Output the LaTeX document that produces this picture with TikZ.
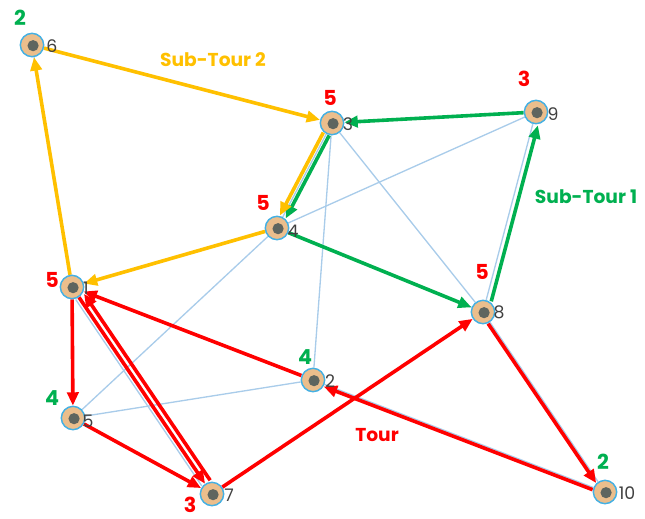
\documentclass[tikz,border=0pt]{standalone}
\usepackage{fontspec}
\setmainfont{Poppins}
\usetikzlibrary{arrows.meta}
\pgfdeclarelayer{bg}
\pgfsetlayers{bg,main}
\definecolor{nfill}{HTML}{EBBE8C}
\definecolor{nborder}{HTML}{45B0E3}
\definecolor{ndot}{HTML}{5E655F}
\definecolor{lblue}{HTML}{A9CCEA}
\definecolor{cred}{HTML}{FF0000}
\definecolor{cgreen}{HTML}{00B050}
\definecolor{cyellow}{HTML}{FFC000}
\definecolor{ntext}{HTML}{404040}
\tikzset{
  city/.style={circle, draw=nborder, line width=1.1pt, fill=nfill, minimum size=17.5pt, inner sep=0pt,
    path picture={\fill[ndot] ([xshift=0.8pt,yshift=-0.5pt]path picture bounding box.center) circle (4.2pt);}},
  num/.style={text=ntext, font=\fontsize{13}{13}\selectfont, inner sep=0pt},
  rlab/.style={text=cred, font=\bfseries\fontsize{15.5}{15.5}\selectfont, inner sep=0pt},
  glab/.style={text=cgreen, font=\bfseries\fontsize{15.5}{15.5}\selectfont, inner sep=0pt},
  lightedge/.style={draw=lblue, line width=1pt},
  tour/.style={draw=cred, line width=2.7pt, -{Triangle[length=10pt,width=8.5pt]}},
  subone/.style={draw=cgreen, line width=2.7pt, -{Triangle[length=10pt,width=8.5pt]}},
  subtwo/.style={draw=cyellow, line width=2.7pt, -{Triangle[length=10pt,width=8.5pt]}},
}
\begin{document}
\begin{tikzpicture}[x=0.75pt,y=-0.75pt]
\useasboundingbox (0,0) rectangle (645,518);
% cities
\node[city] (n6) at (32,45) {};
\node[city] (n3) at (332,123) {};
\node[city] (n9) at (536,112) {};
\node[city] (n4) at (277,228) {};
\node[city] (n1) at (72,287) {};
\node[city] (n8) at (483,312) {};
\node[city] (n2) at (313,380) {};
\node[city] (n5) at (73,418) {};
\node[city] (n7) at (212,494) {};
\node[city] (n10) at (605,492) {};
% city numbers
\node[num] (t6) at (52,46) {6};
\node[num] (t3) at (348,124) {3};
\node[num] (t9) at (553,114) {9};
\node[num] (t4) at (293,231) {4};
\node[num] (t1) at (86,288) {1};
\node[num] (t8) at (499,312) {8};
\node[num] (t2) at (330,381) {2};
\node[num] (t5) at (88,421) {5};
\node[num] (t7) at (229,495) {7};
\node[num] (t10) at (627,493) {10};
% demand labels
\node[glab] (d6) at (20,18) {2};
\node[rlab] (d3) at (330,98) {5};
\node[rlab] (d9) at (524,79) {3};
\node[rlab] (d4) at (263,203) {5};
\node[rlab] (d1) at (52,280) {5};
\node[rlab] (d8) at (482,272) {5};
\node[glab] (d2) at (305,357) {4};
\node[glab] (d5) at (52,398) {4};
\node[rlab] (d7) at (190,505) {3};
\node[glab] (d10) at (603,462) {2};
% titles
\node[text=cyellow, font=\bfseries\fontsize{14}{14}\selectfont] (st2) at (213,60) {Sub-Tour 2};
\node[text=cgreen, font=\bfseries\fontsize{14}{14}\selectfont] (st1) at (586,197) {Sub-Tour 1};
\node[text=cred, font=\bfseries\fontsize{14}{14}\selectfont] (tr) at (377,435) {Tour};
\begin{pgfonlayer}{bg}
% light edges
\draw[lightedge] (n6) -- (n1);
\draw[lightedge] (n1) -- (n4);
\draw[lightedge] (n3) -- (n4);
\draw[lightedge] (n3) -- (n2);
\draw[lightedge] (n3) -- (n8);
\draw[lightedge] (n9) -- (n4);
\draw[lightedge] (n4) -- (n5);
\draw[lightedge] (n4) -- (n8);
\draw[lightedge] (n5) -- (n2);
\draw[lightedge] (n9) -- (n8);
\draw[lightedge] (n8) -- (n10);
\draw[lightedge] (n2) -- (n10);
\draw[lightedge, transform canvas={xshift=-2.4pt,yshift=-1.7pt}] (n1) -- (n7);
% tour
\draw[tour] (n1) -- (n5);
\draw[tour] (n5) -- (n7);
\draw[tour] (n1) -- (n7);
\draw[tour, transform canvas={xshift=3.8pt,yshift=2.6pt}] (n7) -- (n1);
\draw[tour] (n7) -- (n8);
\draw[tour, transform canvas={xshift=-1.4pt,yshift=-1pt}] (n8) -- (n10);
\draw[tour, transform canvas={xshift=-0.6pt,yshift=-1.6pt}] (n10) -- (n2);
\draw[tour] (n2) -- (n1);
% sub-tour 1
\draw[subone] (n9) -- (n3);
\draw[subone, transform canvas={xshift=2.2pt,yshift=-1.1pt}] (n3) -- (n4);
\draw[subone] (n4) -- (n8);
\draw[subone, transform canvas={xshift=3.8pt,yshift=-1pt}] (n8) -- (n9);
% sub-tour 2
\draw[subtwo] (n1) -- (n6);
\draw[subtwo] (n6) -- (n3);
\draw[subtwo, transform canvas={xshift=-2.2pt,yshift=1.1pt}] (n3) -- (n4);
\draw[subtwo] (n4) -- (n1);
\end{pgfonlayer}
\end{tikzpicture}
\end{document}
